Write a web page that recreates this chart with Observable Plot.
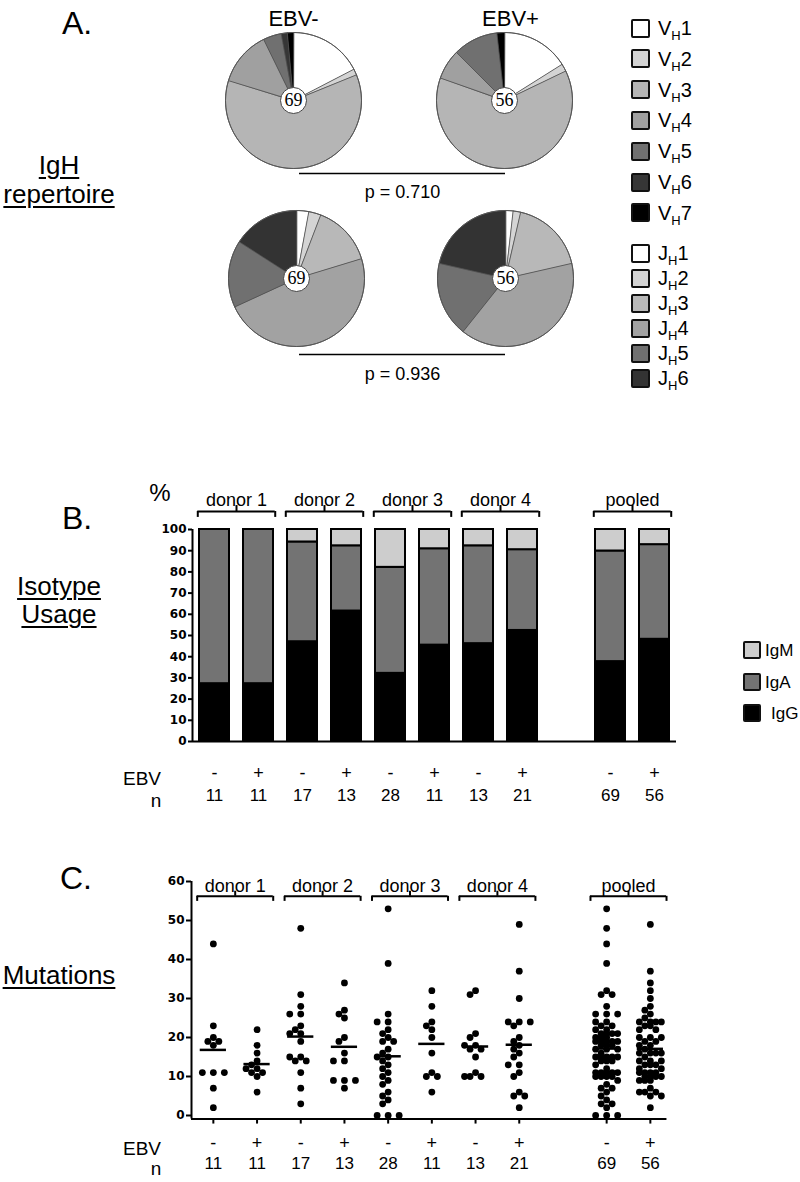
<!DOCTYPE html>
<html><head><meta charset="utf-8">
<script src="https://cdn.jsdelivr.net/npm/d3@7"></script>
<script src="https://cdn.jsdelivr.net/npm/@observablehq/plot@0.6"></script>
<style>
body{margin:0;background:#fff;}
#fig{position:relative;width:800px;height:1182px;font-family:"Liberation Sans",Arial,sans-serif;color:#000;overflow:hidden;background:#fff}
.abs{position:absolute;white-space:nowrap;line-height:1}
.c{transform:translate(-50%,-50%)}
.r{transform:translate(-100%,-50%)}
.panel{font-size:32px}
.side{font-size:26px;text-decoration:underline;text-decoration-thickness:2px;text-underline-offset:3px}
.sq{position:absolute;box-sizing:border-box;border:2.5px solid #111;border-radius:2px}
.lg{font-size:20px;transform:translate(0,-50%);color:#000}
.lg sub{font-size:13px;vertical-align:-5px;line-height:0;color:#000}
.lb{font-size:17px;transform:translate(0,-50%)}
svg{position:absolute;left:0;overflow:visible}
</style></head>
<body><div id="fig"></div>
<script>
// ================= DATA =================
const ebvStatus = ["EBV-", "EBV+"];
const pieTotals = [69, 56];
const vhGenes = ["1", "2", "3", "4", "5", "6", "7"];
const vhCountsNeg = [12, 1, 42, 9, 3, 1, 1];
const vhCountsPos = [9, 1, 35, 4, 6, 0, 1];
const jhGenes = ["1", "2", "3", "4", "5", "6"];
const jhCountsNeg = [2, 2, 10, 33, 11, 11];
const jhCountsPos = [1, 1, 10, 22, 10, 12];
const pLabels = ["p = 0.710", "p = 0.936"];

const groupLabels = ["donor 1", "donor 2", "donor 3", "donor 4", "pooled"];
const ebvSigns = ["-", "+", "-", "+", "-", "+", "-", "+", "-", "+"];
const nLabels = [11, 11, 17, 13, 28, 11, 13, 21, 69, 56];
const isotypes = ["IgG", "IgA", "IgM"];
const igGCounts = [3, 3, 8, 8, 9, 5, 6, 11, 26, 27];
const igACounts = [8, 8, 8, 4, 14, 5, 6, 8, 36, 25];
const igMCounts = [0, 0, 1, 1, 5, 1, 1, 2, 7, 4];
const yTicksB = [0, 10, 20, 30, 40, 50, 60, 70, 80, 90, 100];

const mutD1Neg = [44, 23, 20, 19, 19, 18, 11, 11, 11, 7, 2];
const mutD1Pos = [22, 18, 16, 14, 13, 12, 12, 11, 11, 10, 6];
const mutD2Neg = [48, 31, 28, 26, 26, 23, 22, 21, 21, 19, 15, 15, 14, 14, 11, 7, 3];
const mutD2Pos = [34, 27, 26, 25, 20, 19, 16, 14, 14, 9, 9, 9, 7];
const mutD3Neg = [53, 39, 26, 24, 24, 22, 21, 20, 19, 19, 17, 16, 15, 15, 14, 13, 12, 11, 10, 9, 8, 6, 5, 4, 3, 0, 0, 0];
const mutD3Pos = [32, 28, 24, 23, 22, 20, 16, 11, 10, 10, 6];
const mutD4Neg = [32, 31, 21, 20, 18, 18, 17, 17, 15, 11, 10, 10, 10];
const mutD4Pos = [49, 37, 30, 24, 24, 24, 23, 20, 19, 18, 17, 16, 15, 13, 13, 11, 10, 6, 5, 5, 2];
const yTicksC = [0, 10, 20, 30, 40, 50, 60];

// ================= STYLE / LAYOUT =================
const vColors = ["#ffffff", "#d4d4d4", "#b5b5b5", "#a0a0a0", "#707070", "#363636", "#000000"];
const jColors = ["#ffffff", "#d4d4d4", "#b8b8b8", "#a2a2a2", "#707070", "#333333"];
const isoColors = ["#000000", "#737373", "#cdcdcd"];
const FONT = "Liberation Sans, Arial, sans-serif";
const TICKFONT = "DejaVu Sans, Verdana, sans-serif";
const fig = document.getElementById("fig");

function addText(html, x, y, cls, extra) {
  const d = document.createElement("div");
  d.className = "abs " + cls;
  d.style.left = x + "px"; d.style.top = y + "px";
  if (extra) Object.assign(d.style, extra);
  d.innerHTML = html;
  fig.appendChild(d);
  return d;
}
function addSquare(x, y, size, color) {
  const s = document.createElement("div"); s.className = "sq";
  Object.assign(s.style, {left: x + "px", top: (y - size / 2) + "px", width: size + "px", height: size + "px", background: color});
  fig.appendChild(s);
}
function addSvg(svg, top) { svg.style.top = top + "px"; fig.appendChild(svg); }

// ================= PANEL A (pies) =================
const pieR = 68;
const pieLayout = [{cx: 293, cy: 100}, {cx: 504, cy: 100}, {cx: 296, cy: 278}, {cx: 505, cy: 278}];
const pieDefs = [
  {counts: vhCountsNeg, colors: vColors, n: pieTotals[0]},
  {counts: vhCountsPos, colors: vColors, n: pieTotals[1]},
  {counts: jhCountsNeg, colors: jColors, n: pieTotals[0]},
  {counts: jhCountsPos, colors: jColors, n: pieTotals[1]}
].map((p, i) => ({...p, ...pieLayout[i]}));

const slicePts = [];
pieDefs.forEach((p, pi) => {
  const arcs = d3.pie().sort(null).value(d => d)(p.counts);
  arcs.forEach((a, si) => {
    const span = a.endAngle - a.startAngle;
    if (span <= 0) return;
    const id = pi + "-" + si, color = p.colors[si];
    slicePts.push({id, color, x: p.cx, y: p.cy});
    const steps = Math.max(2, Math.ceil(span / 0.02));
    for (let k = 0; k <= steps; k++) {
      const t = a.startAngle + span * k / steps;
      slicePts.push({id, color, x: p.cx + pieR * Math.sin(t), y: p.cy - pieR * Math.cos(t)});
    }
  });
});
const headX = [293, 510];
const pRows = pLabels.map((t, i) => ({text: t, y: [173, 354][i], ty: [192, 374][i], x1: 299, x2: 505}));

const plotA = Plot.plot({
  width: 800, height: 400, margin: 0,
  x: {domain: [0, 800], range: [0, 800], axis: null},
  y: {domain: [0, 400], range: [0, 400], axis: null},
  color: {type: "identity"},
  style: {fontFamily: FONT, background: "transparent"},
  marks: [
    Plot.line(slicePts, {x: "x", y: "y", z: "id", fill: "color", stroke: "#4d4d4d", strokeWidth: 0.8, curve: "linear-closed", strokeLinejoin: "round"}),
    Plot.dot(pieDefs, {x: "cx", y: "cy", r: pieR, fill: "none", stroke: "#555", strokeWidth: 1}),
    Plot.dot(pieDefs, {x: "cx", y: "cy", r: 13, fill: "white", stroke: "#444", strokeWidth: 1}),
    Plot.text(pieDefs, {x: "cx", y: "cy", text: d => String(d.n), fontFamily: "Liberation Serif, Times New Roman, serif", fontSize: 18, fill: "black"}),
    Plot.text(ebvStatus, {x: (d, i) => headX[i], y: 18, text: d => d, fontSize: 22, fill: "black"}),
    Plot.ruleY(pRows, {y: "y", x1: "x1", x2: "x2", stroke: "black", strokeWidth: 1.5}),
    Plot.text(pRows, {x: d => (d.x1 + d.x2) / 2, y: "ty", text: "text", fontSize: 18, fill: "black"})
  ]
});
addSvg(plotA, 0);

addText("A.", 77, 23, "c panel");
addText("IgH", 59, 165, "c side");
addText("repertoire", 59, 194, "c side");

// legend A
vhGenes.forEach((g, i) => {
  const y = 28 + 30.8 * i;
  addSquare(631, y, 19, vColors[i]);
  addText("V<sub>H</sub>" + g, 658, y, "lg");
});
jhGenes.forEach((g, i) => {
  const y = 253 + 25 * i;
  addSquare(631, y, 19, jColors[i]);
  addText("J<sub>H</sub>" + g, 658, y, "lg");
});

// ================= shared slot layout =================
const slots = [0, 1, 2, 3, 4, 5, 6, 7, 9, 10];
const pairs = [[0, 1], [2, 3], [4, 5], [6, 7], [9, 10]];
const brackets = pairs.map((p, i) => ({label: groupLabels[i], a: p[0], b: p[1]}));

// ================= PANEL B (bars) =================
const barRows = [];
slots.forEach((s, i) => {
  const counts = [igGCounts[i], igACounts[i], igMCounts[i]];
  let cum = 0;
  counts.forEach((c, k) => {
    if (c === 0) return;
    const pct = c / nLabels[i] * 100;
    barRows.push({slot: s, iso: isotypes[k], y1: cum, y2: cum + pct});
    cum += pct;
  });
});
const hwB = 15 / 44;
const brB = 108.5, brBw = 0.38;
const plotB = Plot.plot({
  width: 800, height: 400, marginLeft: 192, marginRight: 124, marginTop: 89, marginBottom: 99,
  x: {domain: [-0.5, 10.5], axis: null},
  y: {domain: [0, 100], axis: null},
  color: {domain: isotypes, range: isoColors},
  style: {fontFamily: FONT, background: "transparent"},
  marks: [
    Plot.rect(barRows, {x1: d => d.slot - hwB, x2: d => d.slot + hwB, y1: "y1", y2: "y2", fill: "iso", stroke: "black", strokeWidth: 2}),
    Plot.ruleX([-0.5], {y1: 0, y2: 100, stroke: "black", strokeWidth: 2}),
    Plot.ruleY([0], {x1: -0.5, x2: 10.5, stroke: "black", strokeWidth: 2}),
    Plot.axisY({ticks: yTicksB, tickSize: 4, tickPadding: 2, tickFormat: d => String(d), fontWeight: "bold", fontSize: 12, fontFamily: TICKFONT, strokeWidth: 2, label: null}),
    Plot.text(slots, {x: d => d, frameAnchor: "bottom", dy: 37, text: (d, i) => ebvSigns[i], fontSize: 18, fill: "black"}),
    Plot.text(slots, {x: d => d, frameAnchor: "bottom", dy: 59, text: (d, i) => String(nLabels[i]), fontSize: 17, fill: "black"}),
    Plot.ruleY(brackets, {y: brB, x1: d => d.a - brBw, x2: d => d.b + brBw, stroke: "black", strokeWidth: 2}),
    Plot.ruleX(brackets.flatMap(d => [d.a - brBw, d.b + brBw]), {x: d => d, y1: brB - 2.8, y2: brB, stroke: "black", strokeWidth: 2}),
    Plot.ruleX(brackets, {x: d => (d.a + d.b) / 2, y1: brB, y2: brB + 2.8, stroke: "black", strokeWidth: 2}),
    Plot.text(brackets, {x: d => (d.a + d.b) / 2, frameAnchor: "top", dy: -36, text: "label", fontSize: 18, fill: "black"})
  ]
});
addSvg(plotB, 440);
addText("B.", 77, 518, "c panel");
addText("%", 160, 493, "c", {fontSize: "24px"});
addText("Isotype", 59, 586, "c side");
addText("Usage", 59, 614, "c side");
addText("EBV", 161, 778, "r", {fontSize: "19px"});
addText("n", 156, 800, "c", {fontSize: "19px"});
// legend B
[["IgM", 650, 765, 2], ["IgA", 682, 765, 1], ["IgG", 713, 771, 0]].forEach(([t, y, lx, k]) => {
  addSquare(743, y, 18, isoColors[k]);
  addText(t, lx, y, "lb");
});

// ================= PANEL C (dots) =================
const mutSeries = [mutD1Neg, mutD1Pos, mutD2Neg, mutD2Pos, mutD3Neg, mutD3Pos, mutD4Neg, mutD4Pos,
  [...mutD1Neg, ...mutD2Neg, ...mutD3Neg, ...mutD4Neg],
  [...mutD1Pos, ...mutD2Pos, ...mutD3Pos, ...mutD4Pos]];
const stepC = 43.7, pxPerUnitC = 3.9, dotStep = 5.5;
function swarmOffsets(values) {
  const order = d3.range(values.length).sort((a, b) => d3.descending(values[a], values[b]));
  const placed = [], off = new Array(values.length);
  const cands = [0];
  for (let k = 1; k <= 2; k++) cands.push(-k * dotStep, k * dotStep);
  for (const i of order) {
    const y = values[i] * pxPerUnitC;
    let best = 0, bestD = -1;
    for (const c of cands) {
      let md = Infinity;
      for (const p of placed) md = Math.min(md, Math.hypot(p.x - c, p.y - y));
      if (md >= dotStep + 0.5) { best = c; break; }
      if (md > bestD) { bestD = md; best = c; }
    }
    placed.push({x: best, y});
    off[i] = best;
  }
  return off;
}
const dotRows = [], meanRows = [];
mutSeries.forEach((vals, i) => {
  const off = swarmOffsets(vals);
  vals.forEach((v, j) => dotRows.push({x: slots[i] + off[j] / stepC, v}));
  meanRows.push({slot: slots[i], m: d3.mean(vals)});
});
const yMinC = -0.9, brC = 56.2, brCw = 0.37;
const plotC = Plot.plot({
  width: 800, height: 332, marginLeft: 191, marginRight: 800 - 191 - 11 * stepC, marginTop: 31, marginBottom: 63.5,
  x: {domain: [-0.5, 10.5], axis: null},
  y: {domain: [yMinC, 60], axis: null},
  style: {fontFamily: FONT, background: "transparent"},
  marks: [
    Plot.ruleX([-0.5], {y1: yMinC, y2: 60, stroke: "black", strokeWidth: 2}),
    Plot.ruleY([yMinC], {x1: -0.5, x2: 10.38, stroke: "black", strokeWidth: 2}),
    Plot.ruleX(slots, {x: d => d, y1: yMinC, y2: yMinC - 1.3, stroke: "black", strokeWidth: 2}),
    Plot.axisY({ticks: yTicksC, tickSize: 5, tickPadding: 2, tickFormat: d => String(d), fontWeight: "bold", fontSize: 12, fontFamily: TICKFONT, strokeWidth: 2, label: null}),
    Plot.dot(dotRows, {x: "x", y: "v", r: 3.4, fill: "black", stroke: "none"}),
    Plot.ruleY(meanRows, {y: "m", x1: d => d.slot - 0.3, x2: d => d.slot + 0.3, stroke: "black", strokeWidth: 2.5}),
    Plot.text(slots, {x: d => d, frameAnchor: "bottom", dy: 29.5, text: (d, i) => ebvSigns[i], fontSize: 18, fill: "black"}),
    Plot.text(slots, {x: d => d, frameAnchor: "bottom", dy: 49.5, text: (d, i) => String(nLabels[i]), fontSize: 17, fill: "black"}),
    Plot.ruleY(brackets, {y: brC, x1: d => d.a - brCw, x2: d => d.b + brCw, stroke: "black", strokeWidth: 2}),
    Plot.ruleX(brackets.flatMap(d => [d.a - brCw, d.b + brCw]), {x: d => d, y1: brC - 1.3, y2: brC, stroke: "black", strokeWidth: 2}),
    Plot.ruleX(brackets, {x: d => (d.a + d.b) / 2, y1: brC, y2: brC + 1.3, stroke: "black", strokeWidth: 2}),
    Plot.text(brackets, {x: d => (d.a + d.b) / 2, frameAnchor: "top", dy: -2, text: "label", fontSize: 18, fill: "black"})
  ]
});
addSvg(plotC, 850);
addText("C.", 76, 878, "c panel");
addText("Mutations", 59, 975, "c side");
addText("EBV", 161, 1148, "r", {fontSize: "19px"});
addText("n", 156, 1168, "c", {fontSize: "19px"});
</script>
</body></html>
